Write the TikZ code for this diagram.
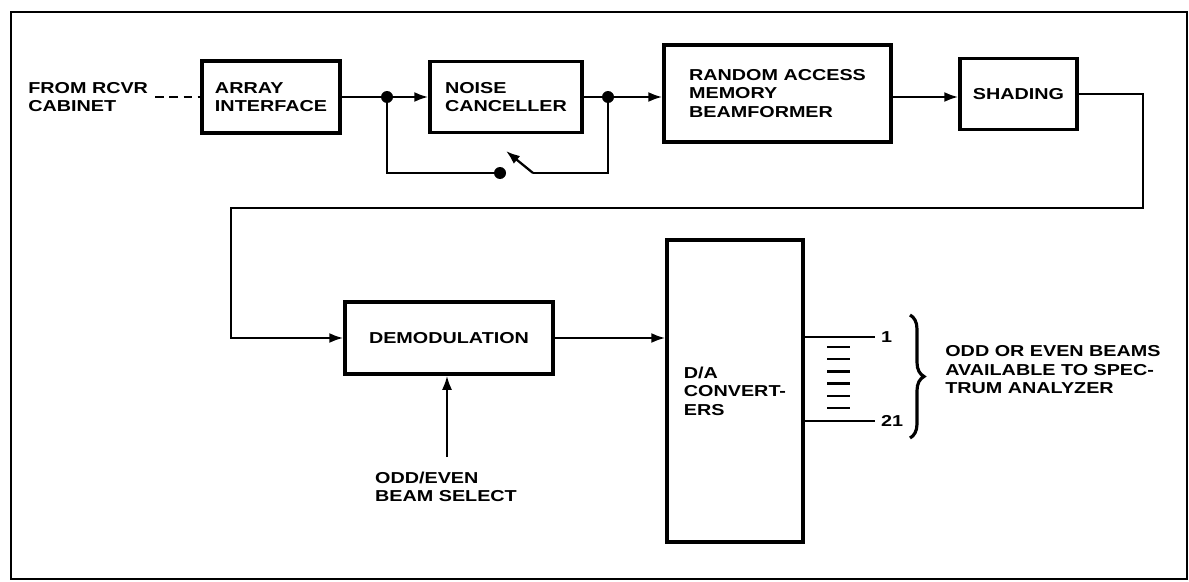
\documentclass[tikz,border=0pt]{standalone}
\usepackage{fontspec}
\setmainfont{Liberation Sans}[FakeStretch=1.25]
\usetikzlibrary{arrows.meta,positioning,calc,decorations.pathreplacing}

\begin{document}
\begin{tikzpicture}[x=0.02cm, y=-0.02cm,
  lbl/.style={font=\fontsize{9}{10.5}\selectfont\bfseries, align=left, inner sep=0pt},
  blk/.style={lbl, draw, line width=2pt},
  wire/.style={line width=1.3pt},
  sig/.style={wire, -{Latex[length=2.8mm, width=2mm]}},
  dot/.style={circle, fill, inner sep=0pt, minimum size=0.24cm}]
  \useasboundingbox (0,0) rectangle (1189,581);
  \draw[line width=0.7pt] (11,12) rectangle (1187,579);
  % top row
  \node[lbl, anchor=west] (src) at (28,97) {FROM RCVR\\CABINET};
  \node[blk, minimum width=2.76cm, minimum height=1.44cm] (arr) at (271,97) {ARRAY\\INTERFACE};
  \node[blk, minimum width=3.04cm, minimum height=1.42cm] (nc) at (506,97) {NOISE\\CANCELLER};
  \node[blk, minimum width=4.54cm, minimum height=1.94cm] (ram) at (777.5,93.5) {RANDOM ACCESS\\MEMORY\\BEAMFORMER};
  \node[blk, minimum width=2.34cm, minimum height=1.42cm] (shd) at (1018.5,94) {SHADING};
  \node[dot] (j1) at (387,97) {};
  \node[dot] (j2) at (608,97) {};
  \node[dot] (sw) at (500,173) {};
  \coordinate (swb) at (533,173);
  \coordinate (swt) at (506,151);
  \draw[wire, dash pattern=on 5pt off 3pt] (src.east |- arr.west) ++(7,0) -- (arr.west);
  \draw[wire] (arr.east) -- (j1);
  \draw[sig] (j1) -- (nc.west);
  \draw[wire] (nc.east |- j2) -- (j2);
  \draw[sig] (j2) -- (j2 -| ram.west);
  \draw[sig] (ram.east |- j2) -- (j2 -| shd.west);
  \draw[wire] (j1) |- (sw);
  \draw[wire, -{Latex[length=2.8mm, width=2mm]}] (swb) -- (swt);
  \draw[wire] (swb) -| (j2);
  % bottom row
  \node[blk, minimum width=4.16cm, minimum height=1.44cm] (dem) at (449,338) {DEMODULATION};
  \node[blk, minimum width=2.72cm, minimum height=6.04cm] (da) at (735,391) {D/A\\CONVERT-\\ERS};
  \node[lbl] (sel) at (446,487) {ODD/EVEN\\BEAM SELECT};
  \coordinate (r1) at (1143,208);
  \coordinate (r2) at (231,208);
  \coordinate (bs) at (447,457);
  \draw[sig] (shd.east) -| (r1) -- (r2) |- (dem.west);
  \draw[sig] (dem.east) -- (dem.east -| da.west);
  \draw[sig] (bs) -- (bs |- dem.south);
  % outputs
  \coordinate (o1) at (803,337);
  \coordinate (o21) at (803,421);
  \draw[wire] (o1 -| da.east) -- ++(70,0) node[lbl, right=3pt] (n1) {1};
  \draw[wire] (o21 -| da.east) -- ++(70,0) node[lbl, right=3pt] (n21) {21};
  \foreach \k in {0,...,5}
    \draw[wire] (827,{347+12.2*\k}) -- (850,{347+12.2*\k});
  \coordinate (bt) at (910,315);
  \coordinate (bb) at (910,438);
  \draw[line width=1.8pt, decorate, decoration={brace, amplitude=0.28cm}] (bt) -- (bb);
  \node[lbl, anchor=west] (avail) at (945,370) {ODD OR EVEN BEAMS\\AVAILABLE TO SPEC-\\TRUM ANALYZER};
\end{tikzpicture}
\end{document}
